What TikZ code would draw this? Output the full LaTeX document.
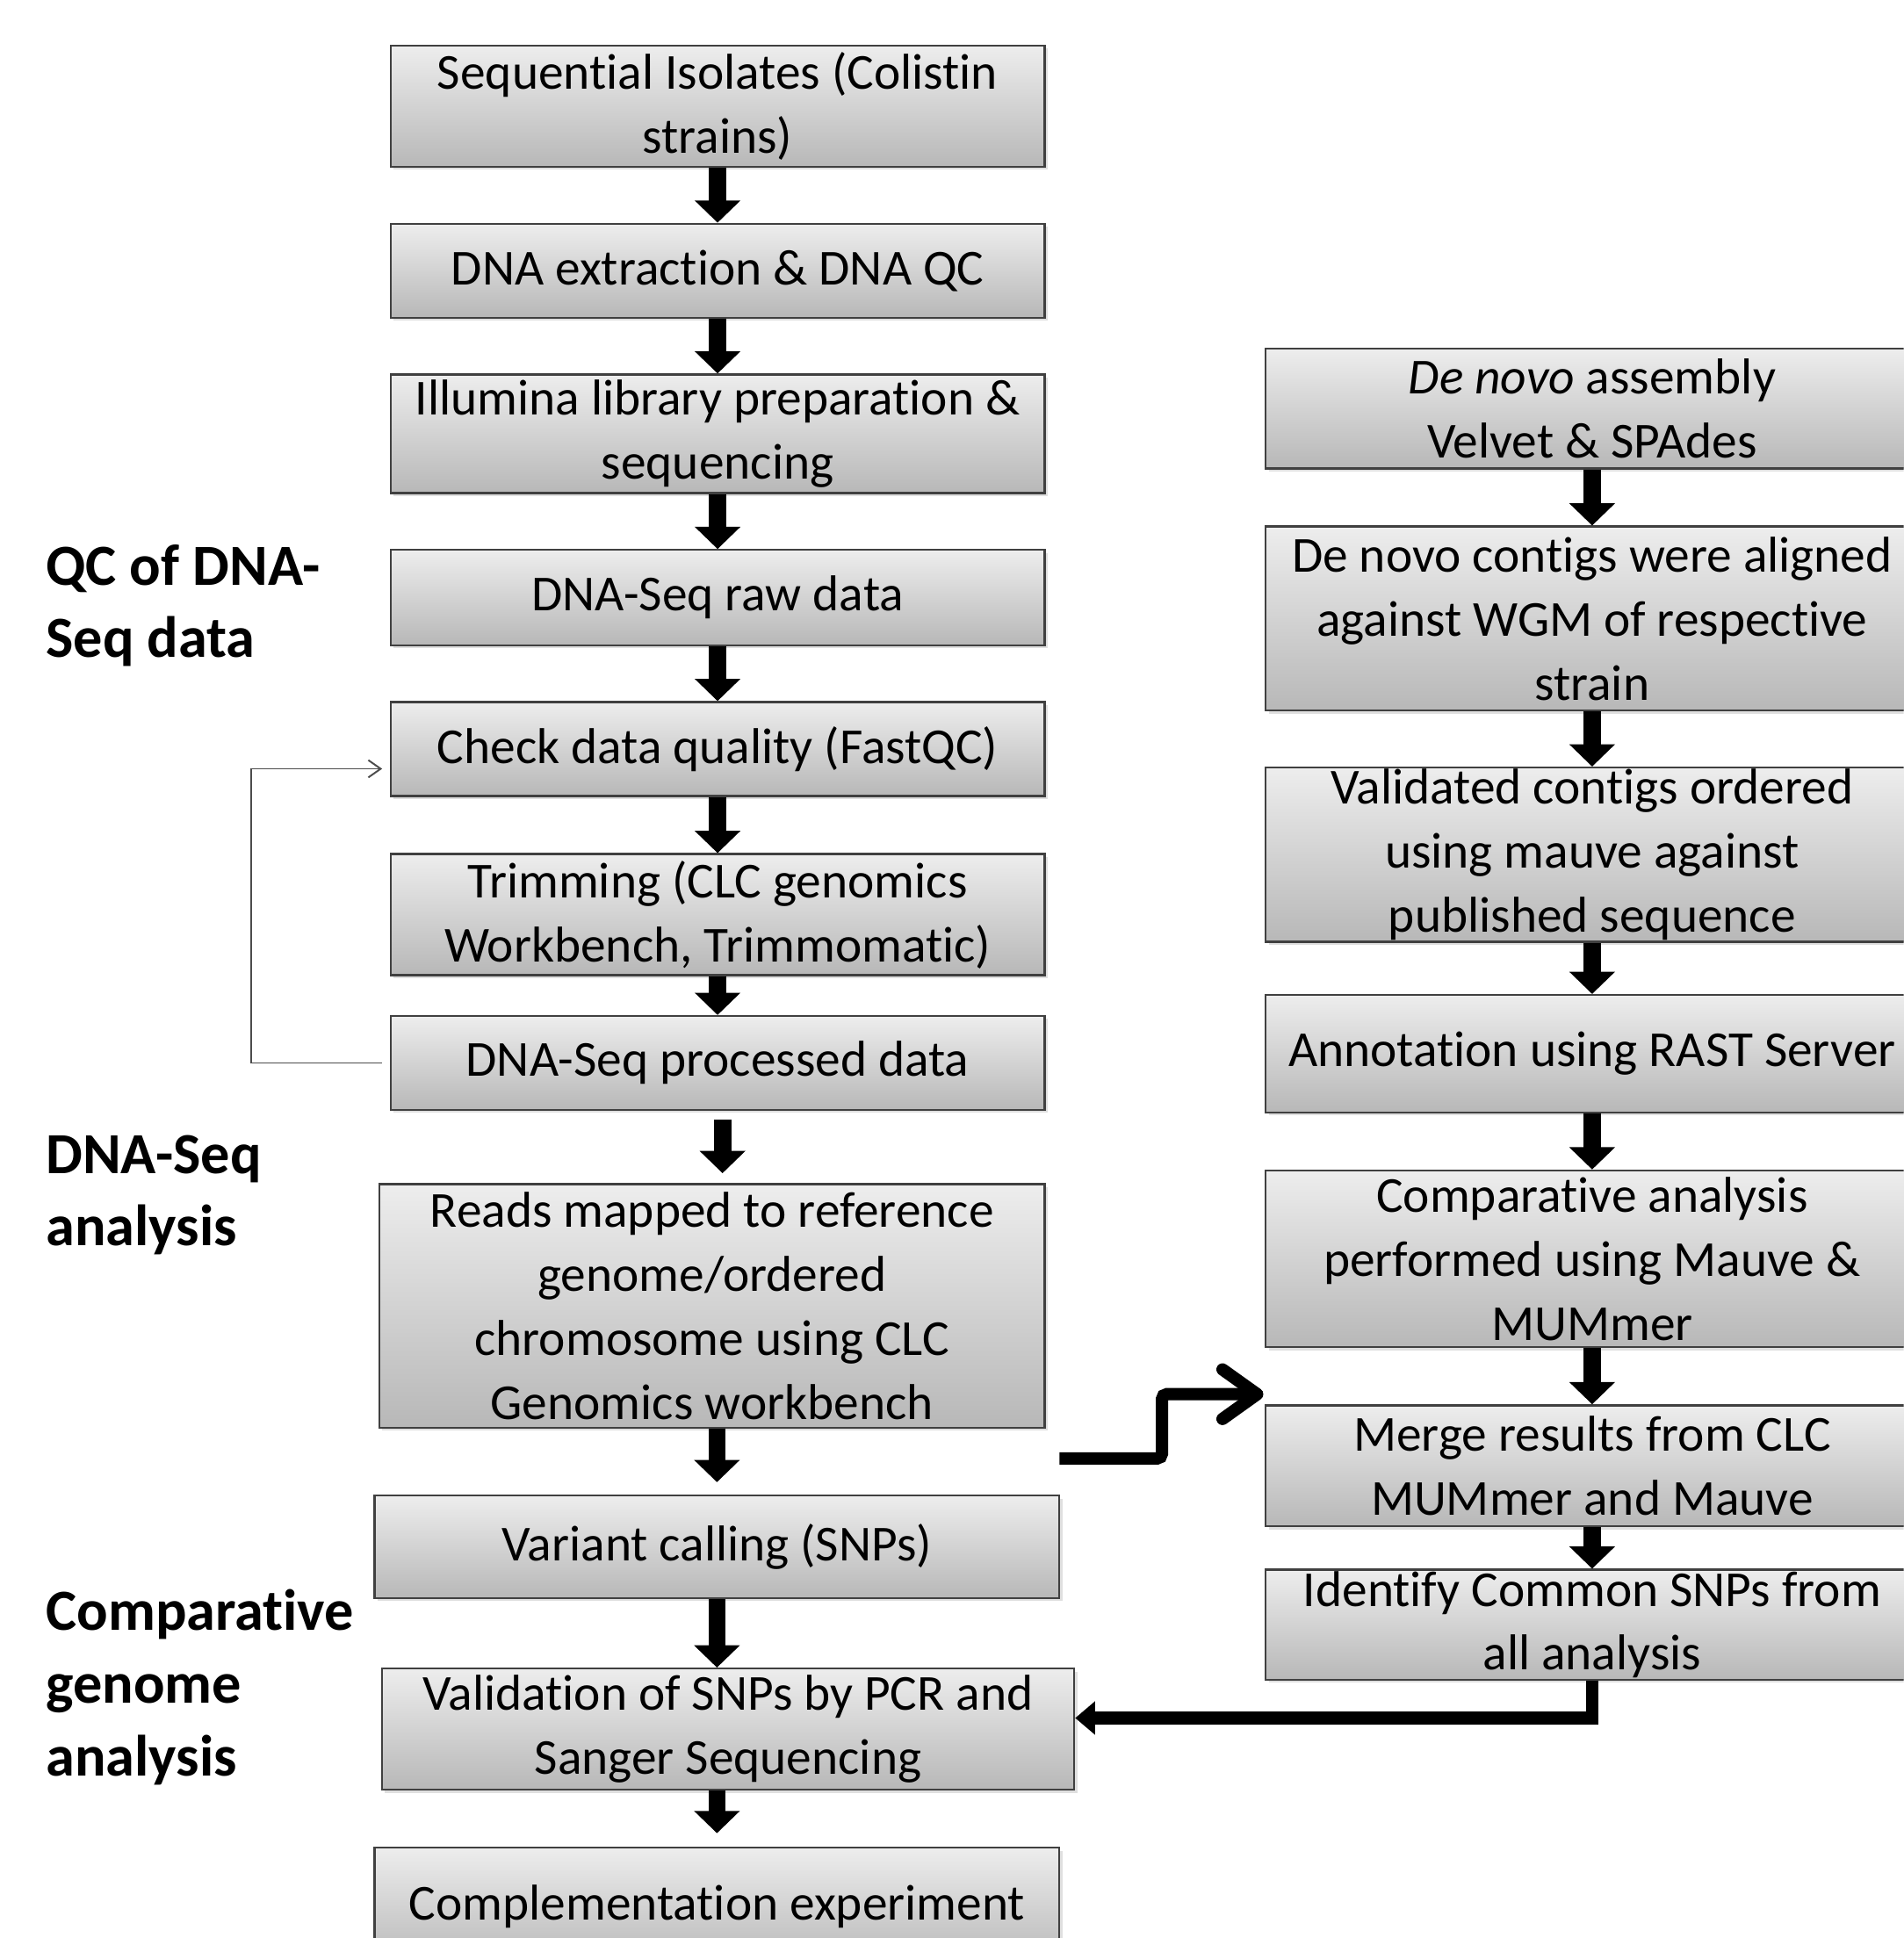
\documentclass[tikz,border=0pt]{standalone}
\usepackage{fontspec}
\setmainfont[Ligatures=NoCommon, RawFeature={-liga;-calt;-dlig}]{Carlito}
\usetikzlibrary{arrows.meta,shadows}
\tikzset{
  stepbox/.style={draw=black!75, line width=0.4mm, top color=black!7, bottom color=black!28,
    drop shadow={opacity=0.25, shadow xshift=0.6mm, shadow yshift=-0.6mm},
    align=center, inner sep=0pt, font=\fontsize{29}{36.85}\selectfont},
  sidelabel/.style={anchor=west, align=left, inner sep=0pt, font=\fontsize{33.5}{41.8}\selectfont\bfseries},
  flow/.style={line width=3.5mm, -{Triangle[length=4.5mm,width=9mm]}},
  bigflow/.style={line width=2.5mm, -{Triangle[length=4mm,width=6.5mm]}},
  stepflow/.style={line width=2.5mm, rounded corners=1mm, -{Straight Barb[length=7mm,width=10mm,round]}},
  loopline/.style={draw=black!70, line width=0.35mm, -{Straight Barb[length=2.5mm,width=3.5mm]}}
}
\begin{document}
\begin{tikzpicture}[x=0.25mm, y=-0.25mm]
  \useasboundingbox (0,0) rectangle (1540,1568);
  \clip (0,0) rectangle (1540,1568);

  \node[sidelabel] (labqc) at (37,490) {QC of DNA-\\Seq data};
  \node[sidelabel] (labseq) at (37,967) {DNA-Seq\\analysis};
  \node[sidelabel] (labcomp) at (37,1365) {Comparative\\genome\\analysis};

  \node[stepbox, minimum width=132.25mm, minimum height=24.5mm] (seq) at (580.5,86) {Sequential Isolates (Colistin\\strains)};
  \node[stepbox, minimum width=132.25mm, minimum height=19mm] (dnaext) at (580.5,219) {DNA extraction \& DNA QC};
  \node[stepbox, minimum width=132.25mm, minimum height=24mm] (lib) at (580.5,351) {Illumina library preparation \&\\sequencing};
  \node[stepbox, minimum width=132.25mm, minimum height=19.25mm] (raw) at (580.5,483.5) {DNA-Seq raw data};
  \node[stepbox, minimum width=132.25mm, minimum height=19mm] (qc) at (580.5,606) {Check data quality (FastQC)};
  \node[stepbox, minimum width=132.25mm, minimum height=24.5mm] (trim) at (580.5,740) {Trimming (CLC genomics\\Workbench, Trimmomatic)};
  \node[stepbox, minimum width=132.25mm, minimum height=19mm] (proc) at (580.5,860) {DNA-Seq processed data};
  \node[stepbox, minimum width=134.5mm, minimum height=49.25mm] (map) at (576,1056.5) {Reads mapped to reference\\genome/ordered\\chromosome using CLC\\Genomics workbench};
  \node[stepbox, minimum width=138.5mm, minimum height=20.75mm] (snp) at (580,1251.5) {Variant calling (SNPs)};
  \node[stepbox, minimum width=140mm, minimum height=24.5mm] (valid) at (589,1399) {Validation of SNPs by PCR and\\Sanger Sequencing};
  \node[stepbox, minimum width=138.5mm, minimum height=23.75mm] (compl) at (580,1542.5) {Complementation experiment};

  \node[stepbox, minimum width=132mm, minimum height=24.25mm] (denovo) at (1288,330.5) {\textit{De novo} assembly\\Velvet \& SPAdes};
  \node[stepbox, minimum width=132mm, minimum height=37.25mm] (align) at (1288,500.5) {De novo contigs were aligned\\against WGM of respective\\strain};
  \node[stepbox, minimum width=132mm, minimum height=35.25mm] (order) at (1288,691.5) {Validated contigs ordered\\using mauve against\\published sequence};
  \node[stepbox, minimum width=132mm, minimum height=23.75mm] (annot) at (1288,852.5) {Annotation using RAST Server};
  \node[stepbox, minimum width=132mm, minimum height=35.75mm] (compar) at (1288,1018.5) {Comparative analysis\\performed using Mauve \&\\MUMmer};
  \node[stepbox, minimum width=132mm, minimum height=24.5mm] (merge) at (1288,1186) {Merge results from CLC\\MUMmer and Mauve};
  \node[stepbox, minimum width=132mm, minimum height=22.25mm] (common) at (1288,1314.5) {Identify Common SNPs from\\all analysis};

  \draw[flow] (seq.south) -- (dnaext.north);
  \draw[flow] (dnaext.south) -- (lib.north);
  \draw[flow] (lib.south) -- (raw.north);
  \draw[flow] (raw.south) -- (qc.north);
  \draw[flow] (qc.south) -- (trim.north);
  \draw[flow] (trim.south) -- (proc.north);
  \draw[flow, shorten <=1.75mm, shorten >=2mm] ([xshift=1mm]proc.south) -- ([xshift=1mm]proc.south |- map.north);
  \draw[flow, shorten >=2.5mm] (map.south -| snp.north) -- (snp.north);
  \draw[flow] (snp.south) -- (snp.south |- valid.north);
  \draw[flow, shorten >=2.75mm] (valid.south -| compl.north) -- (compl.north);

  \draw[flow] (denovo.south) -- (align.north);
  \draw[flow] (align.south) -- (order.north);
  \draw[flow] (order.south) -- (annot.north);
  \draw[flow] (annot.south) -- (compar.north);
  \draw[flow] (compar.south) -- (merge.north);
  \draw[flow] (merge.south) -- (common.north);

  \draw[loopline, shorten <=1.5mm, shorten >=1.5mm] (proc.west) -- ++(-112,0) |- ([yshift=-4mm]qc.west);

  \coordinate (stepstart) at (857,1180);
  \coordinate (stepend) at (1022,1128);
  \draw[stepflow] (stepstart) -- ++(83,0) |- (stepend);

  \draw[bigflow] (common.south) |- ([yshift=2.25mm]valid.east);
\end{tikzpicture}
\end{document}
